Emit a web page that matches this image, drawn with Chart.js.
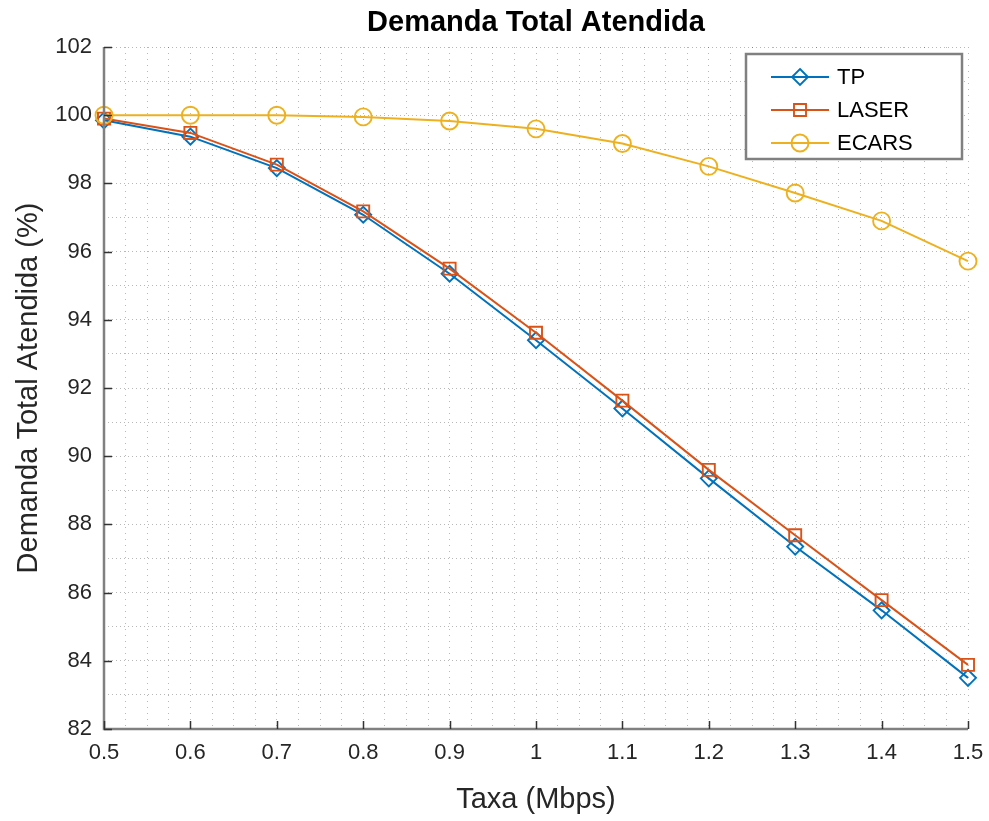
<!DOCTYPE html>
<html><head><meta charset="utf-8">
<script src="https://cdn.jsdelivr.net/npm/chart.js@4.4.1/dist/chart.umd.min.js"></script>
<style>html,body{margin:0;padding:0;background:#fff;overflow:hidden}#wrap{width:989px;height:821px}</style>
</head><body><div id="wrap"><canvas id="c" width="989" height="821"></canvas></div>
<script>
const rates = [0.5, 0.6, 0.7, 0.8, 0.9, 1.0, 1.1, 1.2, 1.3, 1.4, 1.5];
const xTickLabels = ['0.5','0.6','0.7','0.8','0.9','1','1.1','1.2','1.3','1.4','1.5'];
const yTickLabels = ['82','84','86','88','90','92','94','96','98','100','102'];
const seriesNames = ['TP','LASER','ECARS'];
const tpValues    = [99.85, 99.37, 98.45, 97.08, 95.35, 93.40, 91.40, 89.35, 87.35, 85.48, 83.50];
const laserValues = [99.90, 99.48, 98.55, 97.18, 95.50, 93.62, 91.63, 89.60, 87.68, 85.78, 83.88];
const ecarsValues = [100.00, 100.00, 100.00, 99.95, 99.83, 99.60, 99.17, 98.50, 97.72, 96.90, 95.72];
const chartTitle = 'Demanda Total Atendida';
const xTitle = 'Taxa (Mbps)';
const yTitle = 'Demanda Total Atendida (%)';

const FONT = "'Liberation Sans', Arial, Helvetica, sans-serif";
Chart.defaults.font.family = FONT;
const TXT = '#262626';
const AXIS = '#808080';
const colors = ['#0072BD', '#D95319', '#EDB120'];
const styles = ['rectRot', 'rect', 'circle'];
const radii = [8, 8.5, 8.5];

const mk = vals => vals.map((v, i) => ({x: rates[i], y: v}));
const datasets = [tpValues, laserValues, ecarsValues].map((vals, i) => ({
  label: seriesNames[i], data: mk(vals),
  borderColor: colors[i], backgroundColor: colors[i], borderWidth: 2,
  pointStyle: styles[i], pointRadius: radii[i], pointHoverRadius: radii[i],
  pointBorderWidth: 1.9, pointBackgroundColor: 'rgba(0,0,0,0)', pointBorderColor: colors[i],
  tension: 0, order: 3 - i, clip: false
}));

function drawMarker(ctx, style, x, y, r) {
  ctx.beginPath();
  if (style === 'circle') ctx.arc(x, y, r, 0, Math.PI * 2);
  else if (style === 'rect') { const s = r * Math.SQRT1_2; ctx.rect(x - s, y - s, 2 * s, 2 * s); }
  else { ctx.moveTo(x, y - r); ctx.lineTo(x + r, y); ctx.lineTo(x, y + r); ctx.lineTo(x - r, y); ctx.closePath(); }
  ctx.stroke();
}

const decor = {
  id: 'decor',
  afterDraw(chart) {
    const {ctx, chartArea: a, scales: {x, y}} = chart;
    ctx.save();
    ctx.strokeStyle = AXIS; ctx.lineWidth = 2.5; ctx.setLineDash([]);
    ctx.beginPath(); ctx.moveTo(a.left, a.top); ctx.lineTo(a.left, a.bottom); ctx.lineTo(a.right, a.bottom); ctx.stroke();
    ctx.lineWidth = 1.5; ctx.strokeStyle = '#333';
    ctx.beginPath();
    yTickLabels.forEach(t => { const py = Math.round(y.getPixelForValue(Number(t))) + 0.5; ctx.moveTo(a.left, py); ctx.lineTo(a.left + 8, py); });
    rates.forEach(v => { const px = Math.round(x.getPixelForValue(v)) + 0.5; ctx.moveTo(px, a.bottom); ctx.lineTo(px, a.bottom - 8); });
    ctx.stroke();
    ctx.fillStyle = '#000'; ctx.font = 'bold 29px ' + FONT; ctx.textAlign = 'center'; ctx.textBaseline = 'middle';
    ctx.fillText(chartTitle, (a.left + a.right) / 2, 23);
    const bx = 746, by = 54, bw = 216, bh = 105;
    ctx.fillStyle = '#fff'; ctx.fillRect(bx, by, bw, bh);
    ctx.strokeStyle = AXIS; ctx.lineWidth = 2.5; ctx.strokeRect(bx, by, bw, bh);
    const rows = [77, 110, 143];
    chart.data.datasets.forEach((ds, i) => {
      const ry = rows[i];
      ctx.strokeStyle = ds.borderColor; ctx.lineWidth = 2;
      ctx.beginPath(); ctx.moveTo(771, ry); ctx.lineTo(829, ry); ctx.stroke();
      ctx.lineWidth = 1.9;
      drawMarker(ctx, ds.pointStyle, 800, ry, ds.pointRadius);
      ctx.fillStyle = '#000'; ctx.font = '22px ' + FONT; ctx.textAlign = 'left'; ctx.textBaseline = 'middle';
      ctx.fillText(ds.label, 837, ry + 1);
    });
    ctx.restore();
  }
};

new Chart(document.getElementById('c'), {
  type: 'line',
  data: {datasets},
  plugins: [decor],
  options: {
    responsive: false, animation: false, devicePixelRatio: 1,
    layout: {padding: {top: 47, right: 21, left: 0, bottom: 0}},
    plugins: {legend: {display: false}, title: {display: false}, tooltip: {enabled: false}},
    scales: {
      x: {
        type: 'linear', min: 0.5, max: 1.5,
        ticks: {
          stepSize: 0.025, autoSkip: false, maxRotation: 0, minRotation: 0, maxTicksLimit: 1000,
          padding: 11, color: TXT, font: {size: 22},
          callback: v => { const f = (v - 0.5) * 10, k = Math.round(f); return Math.abs(f - k) < 1e-6 ? xTickLabels[k] : ''; }
        },
        grid: {color: 'rgba(0,0,0,0.28)', lineWidth: 1, drawTicks: false},
        border: {display: false, dash: [1, 5]},
        title: {display: true, text: xTitle, color: TXT, font: {size: 29}, padding: {top: 0, bottom: 4}},
        afterFit: s => { s.height = 92; s.paddingLeft = 0; s.paddingRight = 0; }
      },
      y: {
        type: 'linear', min: 82, max: 102,
        ticks: {
          stepSize: 1, autoSkip: false, maxTicksLimit: 1000, padding: 12, color: TXT, font: {size: 22},
          callback: v => { const k = (v - 82) / 2; return Number.isInteger(k) ? yTickLabels[k] : ''; }
        },
        grid: {color: 'rgba(0,0,0,0.28)', lineWidth: 1, drawTicks: false},
        border: {display: false, dash: [1, 3]},
        title: {display: true, text: yTitle, color: TXT, font: {size: 29}, padding: {top: 12, bottom: 0}},
        afterFit: s => { s.width = 104; s.paddingTop = 0; s.paddingBottom = 0; }
      }
    }
  }
});
</script>
</body></html>
